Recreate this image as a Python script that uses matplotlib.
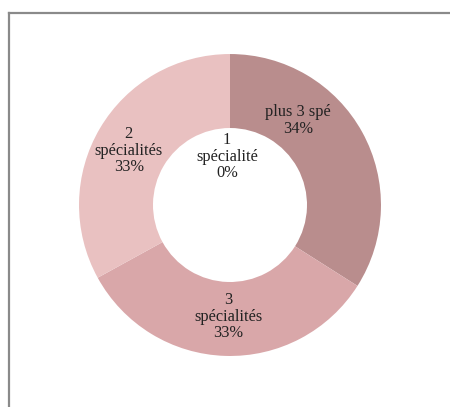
import matplotlib
matplotlib.use("Agg")
import matplotlib.pyplot as plt
from matplotlib.lines import Line2D

# données (ordre horaire depuis le haut)
categories = ["plus 3 spé", "3\nspécialités", "2\nspécialités", "1\nspécialité"]
valeurs = [34, 33, 33, 0]
couleurs = ["#b98d8d", "#d9a7a9", "#e9c1c1", "#f0d0d0"]

# positions des étiquettes (coordonnées de l'axe, rayon extérieur = 1)
pos_etiquettes = [(0.45, 0.56), (-0.01, -0.74), (-0.67, 0.36), (-0.02, 0.32)]

fig = plt.figure(figsize=(4.5, 4.07), dpi=100)

# cadre gris (haut + gauche seulement, le reste est hors image)
x0, y0 = 8.5 / 450, 1 - 12.5 / 407
fig.add_artist(Line2D([x0, 1.1], [y0, y0], transform=fig.transFigure,
                      color="#8a8a8a", linewidth=1.6))
fig.add_artist(Line2D([x0, x0], [-0.1, y0], transform=fig.transFigure,
                      color="#8a8a8a", linewidth=1.6))

ax = fig.add_axes([0.1756, 0.1253, 0.671, 0.742])
ax.pie(valeurs, colors=couleurs, startangle=90, counterclock=False,
       radius=1, wedgeprops=dict(width=0.49, edgecolor="none"))

total = sum(valeurs)
for cat, v, (x, y) in zip(categories, valeurs, pos_etiquettes):
    pct = round(100 * v / total)
    ax.text(x, y, f"{cat}\n{pct}%", ha="center", va="center",
            fontsize=11.8, family="Liberation Serif", color="#222222",
            linespacing=1.05)

ax.set_xlim(-1, 1)
ax.set_ylim(-1, 1)
ax.set_aspect("equal")
ax.axis("off")

fig.savefig("out.png", dpi=100)
